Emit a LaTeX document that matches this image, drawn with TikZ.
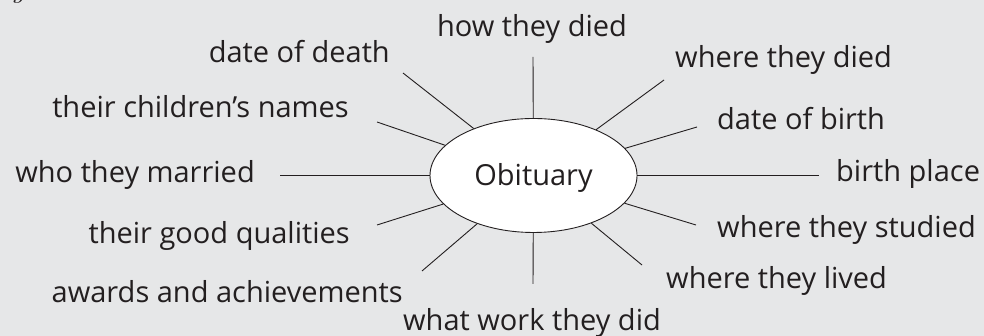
\documentclass[tikz,border=0pt]{standalone}
\usepackage{fontspec}
\setmainfont{Open Sans}
\usepackage{tikz}
\usetikzlibrary{positioning,shapes.geometric}

\definecolor{bggrey}{HTML}{E6E7E8}
\definecolor{inkdark}{HTML}{231F20}

\tikzset{
  topic/.style={ellipse,draw=inkdark,fill=white,line width=0.9pt,
    minimum width=207pt,minimum height=114pt,inner sep=0pt,
    text=inkdark,font=\fontsize{29}{34}\selectfont},
  item/.style={inner sep=0pt,text=inkdark,font=\fontsize{29}{34}\selectfont},
  spoke/.style={draw=inkdark,line width=0.9pt}
}

\begin{document}
\begin{tikzpicture}[x=1pt,y=1pt]
        \fill[bggrey] (0,0) rectangle (984,336);
        \useasboundingbox (0,0) rectangle (984,336);
        % cut-off letter at the top edge
        \node[inner sep=0pt,anchor=base west,text=inkdark,font=\fontfamily{lmr}\fontsize{29}{34}\selectfont\itshape] (fig) at (12,338) {g};
        % centre
        \node[topic] (ob) at (533.5,160.5) {};
        \node[item] (obt) at ([yshift=-2pt]ob.center) {Obituary};
        % labels
        \node[item,anchor=base] (howdied) at (532,299) {how they died};
        \node[item,anchor=base east] (deathdate) at (390,273) {date of death};
        \node[item,anchor=base east] (children) at (349,218) {their children’s names};
        \node[item,anchor=base east] (married) at (255,153.5) {who they married};
        \node[item,anchor=base east] (qualities) at (350,92) {their good qualities};
        \node[item,anchor=base east] (awards) at (403,33) {awards and achievements};
        \node[item,anchor=base] (work) at (532,5) {what work they did};
        \node[item,anchor=base west] (lived) at (666,47) {where they lived};
        \node[item,anchor=base west] (studied) at (717,98) {where they studied};
        \node[item,anchor=base west] (birthplace) at (836,154) {birth place};
        \node[item,anchor=base west] (birthdate) at (717,206) {date of birth};
        \node[item,anchor=base west] (wheredied) at (675,268) {where they died};
        % free ends of the spokes
        \coordinate (e1) at (533,279);
        \coordinate (e2) at (403,263);
        \coordinate (e3) at (377,214);
        \coordinate (e4) at (280,160.5);
        \coordinate (e5) at (377,111);
        \coordinate (e6) at (422,65);
        \coordinate (e7) at (533,52);
        \coordinate (e8) at (642,71);
        \coordinate (e9) at (696,111);
        \coordinate (e10) at (819,160.5);
        \coordinate (e11) at (697,209);
        \coordinate (e12) at (664,256);
        \draw[spoke] (ob) -- (e1);
        \draw[spoke] (ob) -- (e2);
        \draw[spoke] (ob) -- (e3);
        \draw[spoke] (ob) -- (e4);
        \draw[spoke] (ob) -- (e5);
        \draw[spoke] (ob) -- (e6);
        \draw[spoke] (ob) -- (e7);
        \draw[spoke] (ob) -- (e8);
        \draw[spoke] (ob) -- (e9);
        \draw[spoke] (ob) -- (e10);
        \draw[spoke] (ob) -- (e11);
        \draw[spoke] (ob) -- (e12);
\end{tikzpicture}
\end{document}
